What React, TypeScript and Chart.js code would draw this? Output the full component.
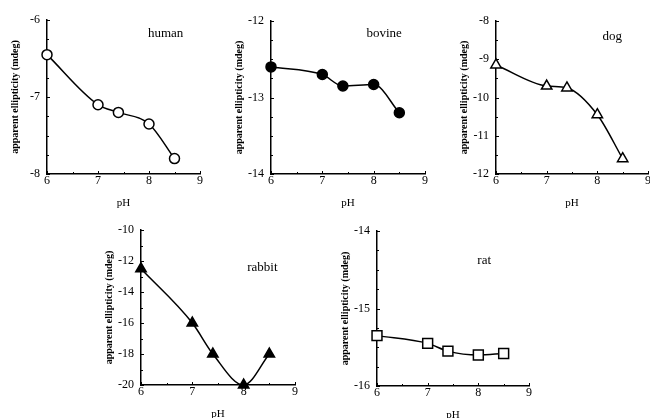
import React, { useEffect, useRef } from "react";
import { Chart, registerables } from "chart.js";
Chart.register(...registerables);

// ---- data ----
const pHValues = [6, 7, 7.4, 8, 8.5];
const human = [-6.45, -7.1, -7.2, -7.35, -7.8];
const bovine = [-12.6, -12.7, -12.85, -12.83, -13.2];
const dog = [-9.15, -9.7, -9.75, -10.45, -11.6];
const rabbit = [-12.5, -16, -18, -20, -18];
const rat = [-15.35, -15.45, -15.55, -15.6, -15.58];

const speciesNames = ["human", "bovine", "dog", "rabbit", "rat"];
const seriesList = [human, bovine, dog, rabbit, rat];
const yMins = [-8, -14, -12, -20, -16];
const yMaxs = [-6, -12, -8, -10, -14];
const yMinorSteps = [0.25, 0.25, 0.5, 1, 0.25];
const yMajorSteps = [1, 1, 1, 2, 1];
const xMin = 6;
const xMax = 9;
const xMinorStep = 0.5;
const xMajorStep = 1;
const yTitle = "apparent ellipticity (mdeg)";
const xTitle = "pH";

// ---- styling / layout ----
const FONT = '"Liberation Serif", "Times New Roman", serif';
const pointStyles = ["circle", "circle", "triangle", "triangle", "rect"];
const pointFilled = [false, true, false, true, false];
const pointRadii = [5, 5, 6, 6, 7];
// chart area: left, top, width, height (page px)
const areas = [
  [47, 20, 153, 154],
  [271, 21, 154, 153],
  [496, 21, 152, 153],
  [141, 230, 154, 155],
  [377, 231, 152, 155],
];
const labelPos = [
  [0.66, 0.085],
  [0.62, 0.08],
  [0.7, 0.105],
  [0.69, 0.24],
  [0.66, 0.19],
];
const Y_AXIS_W = 47;
const X_AXIS_H = 36;
const PAD_TOP = 20;
const PAD_RIGHT = 15;

const isMultiple = (v: number, step: number) =>
  Math.abs(v / step - Math.round(v / step)) < 1e-6;

const innerTicks = {
  id: "innerTicks",
  beforeDatasetsDraw(chart: any) {
    const { ctx, chartArea, scales } = chart;
    ctx.save();
    ctx.strokeStyle = "#000";
    ctx.lineWidth = 1;
    const xs = scales.x;
    xs.ticks.forEach((t: any) => {
      const px = Math.round(xs.getPixelForValue(t.value)) + 0.5;
      const len = isMultiple(t.value, xMajorStep) ? 3 : 2;
      ctx.beginPath();
      ctx.moveTo(px, chartArea.bottom);
      ctx.lineTo(px, chartArea.bottom - len);
      ctx.stroke();
    });
    const ys = scales.y;
    ys.ticks.forEach((t: any) => {
      const py = Math.round(ys.getPixelForValue(t.value)) + 0.5;
      const len = t.label !== "" ? 3 : 2;
      ctx.beginPath();
      ctx.moveTo(chartArea.left, py);
      ctx.lineTo(chartArea.left + len, py);
      ctx.stroke();
    });
    ctx.restore();
  },
};

const speciesLabel = {
  id: "speciesLabel",
  afterDraw(chart: any, _args: any, opts: any) {
    const { ctx, chartArea } = chart;
    ctx.save();
    ctx.font = `13px ${FONT}`;
    ctx.fillStyle = "#000";
    ctx.textAlign = "left";
    ctx.textBaseline = "middle";
    ctx.fillText(
      opts.text,
      chartArea.left + opts.fx * (chartArea.right - chartArea.left),
      chartArea.top + opts.fy * (chartArea.bottom - chartArea.top)
    );
    ctx.restore();
  },
};

function Panel({ index }: { index: number }) {
  const ref = useRef<HTMLCanvasElement>(null);
  const [L, T, W, H] = areas[index];
  const cw = W + Y_AXIS_W + PAD_RIGHT;
  const ch = H + PAD_TOP + X_AXIS_H;
  useEffect(() => {
    const vals = seriesList[index];
    const chart = new Chart(ref.current as HTMLCanvasElement, {
      type: "line",
      data: {
        datasets: [
          {
            data: pHValues.map((x, i) => ({ x, y: vals[i] })),
            borderColor: "#000",
            borderWidth: 1.5,
            cubicInterpolationMode: "monotone",
            pointStyle: pointStyles[index] as any,
            pointRadius: pointRadii[index],
            pointBorderWidth: 1.5,
            pointBorderColor: "#000",
            pointBackgroundColor: pointFilled[index] ? "#000" : "#fff",
            clip: false as any,
          },
        ],
      },
      options: {
        responsive: false,
        animation: false,
        devicePixelRatio: 1,
        layout: { padding: { left: 0, top: PAD_TOP, right: PAD_RIGHT, bottom: 0 } },
        plugins: {
          legend: { display: false },
          tooltip: { enabled: false },
          speciesLabel: {
            text: speciesNames[index],
            fx: labelPos[index][0],
            fy: labelPos[index][1],
          },
        } as any,
        scales: {
          x: {
            type: "linear",
            min: xMin,
            max: xMax,
            afterFit: (s: any) => {
              s.height = X_AXIS_H;
            },
            grid: { display: false, drawTicks: false },
            border: { display: true, color: "#000", width: 1.5 },
            ticks: {
              stepSize: xMinorStep,
              autoSkip: false,
              maxRotation: 0,
              padding: 0,
              color: "#000",
              font: { family: FONT, size: 12 },
              callback: (v: any) => (isMultiple(Number(v), xMajorStep) ? String(v) : ""),
            },
            title: {
              display: true,
              text: xTitle,
              color: "#000",
              font: { family: FONT, size: 11 },
              padding: { top: 0, bottom: 0 },
            },
          },
          y: {
            type: "linear",
            min: yMins[index],
            max: yMaxs[index],
            afterFit: (s: any) => {
              s.width = Y_AXIS_W;
            },
            grid: { display: false, drawTicks: false },
            border: { display: true, color: "#000", width: 1.5 },
            ticks: {
              stepSize: yMinorSteps[index],
              maxTicksLimit: 100,
              autoSkip: false,
              padding: 7,
              color: "#000",
              font: { family: FONT, size: 12 },
              callback: (v: any) =>
                isMultiple(Number(v), yMajorSteps[index]) ? String(Math.round(Number(v))) : "",
            },
            title: {
              display: true,
              text: yTitle,
              color: "#000",
              font: { family: FONT, size: 10, weight: "bold" },
              padding: { top: 9, bottom: 0 },
            },
          },
        },
      },
      plugins: [innerTicks, speciesLabel],
    });
    return () => chart.destroy();
  }, [index]);
  return (
    <canvas
      ref={ref}
      width={cw}
      height={ch}
      style={{
        position: "absolute",
        left: L - Y_AXIS_W,
        top: T - PAD_TOP,
        width: cw,
        height: ch,
      }}
    />
  );
}

export default function App() {
  return (
    <div
      style={{
        position: "absolute",
        left: 0,
        top: 0,
        width: 650,
        height: 418,
        overflow: "hidden",
        background: "#fff",
      }}
    >
      {speciesNames.map((_, i) => (
        <Panel key={i} index={i} />
      ))}
    </div>
  );
}
